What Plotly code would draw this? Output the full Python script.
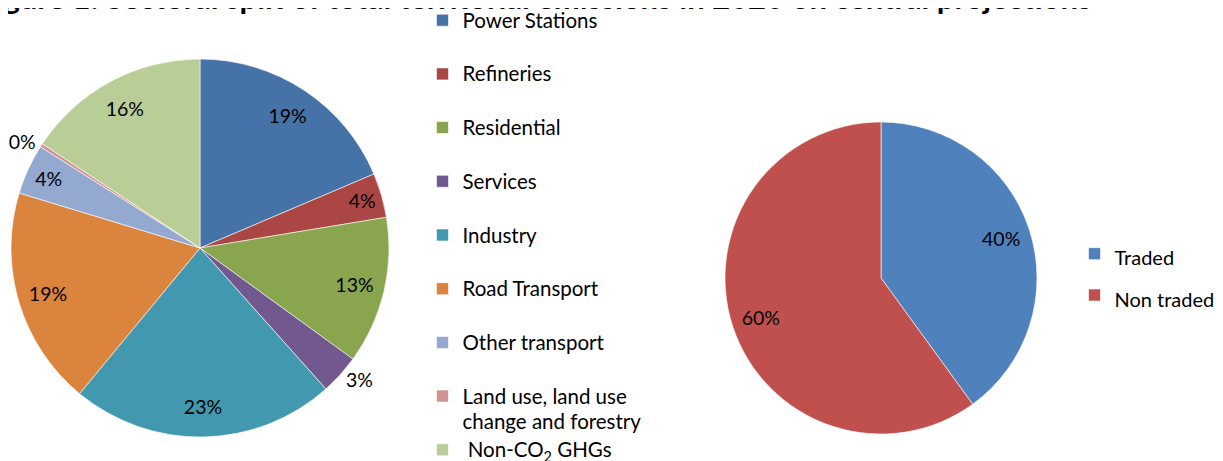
import plotly.graph_objects as go

W, H = 1223, 469
OFF = 8  # page body margin offset

title_text = "Figure 1: Sectoral split of total territorial emissions in 2020 on central projections"

sectors = ["Power Stations", "Refineries", "Residential", "Services", "Industry",
           "Road Transport", "Other transport", "Land use, land use<br>change and forestry",
           " Non-CO<sub>2</sub> GHGs"]
sector_share = [18.6, 3.8, 12.6, 3.4, 22.6, 18.7, 4.3, 0.3, 15.7]
sector_colors = ["#4572A7", "#AA4643", "#89A54E", "#71588F", "#4198AF",
                 "#DB843D", "#93A9CF", "#D19392", "#B9CD96"]
# label placement per slice: "ring" = big slices (outer ring), "inside"/"outside" = small ones
sector_labelmode = ["ring", "inside", "ring", "outside", "ring",
                    "ring", "inside", "outside", "ring"]

trade_labels = ["Traded", "Non traded"]
trade_share = [40, 60]
trade_colors = ["#4F81BD", "#C0504D"]

FONT = "Lato, 'Open Sans', sans-serif"
LABEL_SIZE = 19.5


def legend_text(lbl, size, last=False):
    lines = lbl.split("<br>")
    out = "<br>".join(f"<span style='font-size:{size}px'>{ln}</span>" for ln in lines)
    if len(lines) == 1 and not last:
        out += "<br> "
    return out


def px_dom_x(a, b):
    return [(a - OFF) / W, (b - OFF) / W]


def px_dom_y(top, bottom):
    return [(H - (bottom - OFF)) / H, (H - (top - OFF)) / H]


# pie 1 page geometry: centre (200, 248), radius 189
d1x = px_dom_x(200 - 189, 200 + 189)
d1y = px_dom_y(248 - 189, 248 + 189)
# pie 2 page geometry: centre (881, 278), radius 156
d2x = px_dom_x(881 - 156, 881 + 156)
d2y = px_dom_y(278 - 156, 278 + 156)

lab_font = dict(family=FONT, size=LABEL_SIZE, color="black")
sector_legend = [legend_text(s, 20.5, last=(i == len(sectors) - 1)) for i, s in enumerate(sectors)]

fig = go.Figure()
# main visible sector pie (small-slice labels)
fig.add_trace(go.Pie(
    labels=sector_legend, values=sector_share, sort=False, direction="clockwise",
    rotation=0, marker=dict(colors=sector_colors, line=dict(color="white", width=0.6)),
    texttemplate="%{percent:.0%}",
    textposition=[m if m != "ring" else "none" for m in sector_labelmode],
    insidetextorientation="horizontal", textfont=lab_font,
    domain=dict(x=d1x, y=d1y), legend="legend", hoverinfo="percent",
))
# transparent ring overlay carrying the big-slice labels
fig.add_trace(go.Pie(
    labels=sector_legend, values=sector_share, sort=False, direction="clockwise",
    rotation=0, hole=0.68, marker=dict(colors=["rgba(0,0,0,0)"] * len(sectors),
                                        line=dict(width=0)),
    texttemplate="%{percent:.0%}",
    textposition=["inside" if m == "ring" else "none" for m in sector_labelmode],
    insidetextorientation="horizontal", textfont=lab_font,
    domain=dict(x=d1x, y=d1y), showlegend=False, hoverinfo="skip",
))
# traded / non traded pie
fig.add_trace(go.Pie(
    labels=[f"<span style='font-size:20px'>{t}</span>" for t in trade_labels],
    values=trade_share, sort=False, direction="clockwise",
    rotation=0, marker=dict(colors=trade_colors, line=dict(color="white", width=0.6)),
    textposition="none",
    domain=dict(x=d2x, y=d2y), legend="legend2", hoverinfo="percent",
))
fig.add_trace(go.Pie(
    labels=trade_labels, values=trade_share, sort=False, direction="clockwise",
    rotation=0, hole=0.62, marker=dict(colors=["rgba(0,0,0,0)"] * 2, line=dict(width=0)),
    texttemplate="%{percent:.0%}", textposition="inside",
    insidetextorientation="horizontal", textfont=lab_font,
    domain=dict(x=d2x, y=d2y), showlegend=False, hoverinfo="skip",
))

fig.update_layout(
    width=W, height=H, margin=dict(l=0, r=0, t=0, b=0, autoexpand=False),
    paper_bgcolor="white", plot_bgcolor="white",
    font=dict(family=FONT, size=17, color="black"),
    legend=dict(x=414.5 / W, y=1 + 7 / H, xanchor="left", yanchor="top",
                font=dict(family=FONT, size=19.5), valign="top", maxheight=700,
                bgcolor="rgba(0,0,0,0)"),
    legend2=dict(x=1066.5 / W, y=(H - 220) / H, xanchor="left", yanchor="top",
                 font=dict(family=FONT, size=29.5), bgcolor="rgba(0,0,0,0)"),
    annotations=[dict(text="<b>" + title_text + "</b>", x=1086 / W, xanchor="right",
                      y=(H - 10) / H, yanchor="bottom", xref="paper", yref="paper",
                      showarrow=False, font=dict(family=FONT, size=31, color="black"))],
)

fig.write_html("out.html")
